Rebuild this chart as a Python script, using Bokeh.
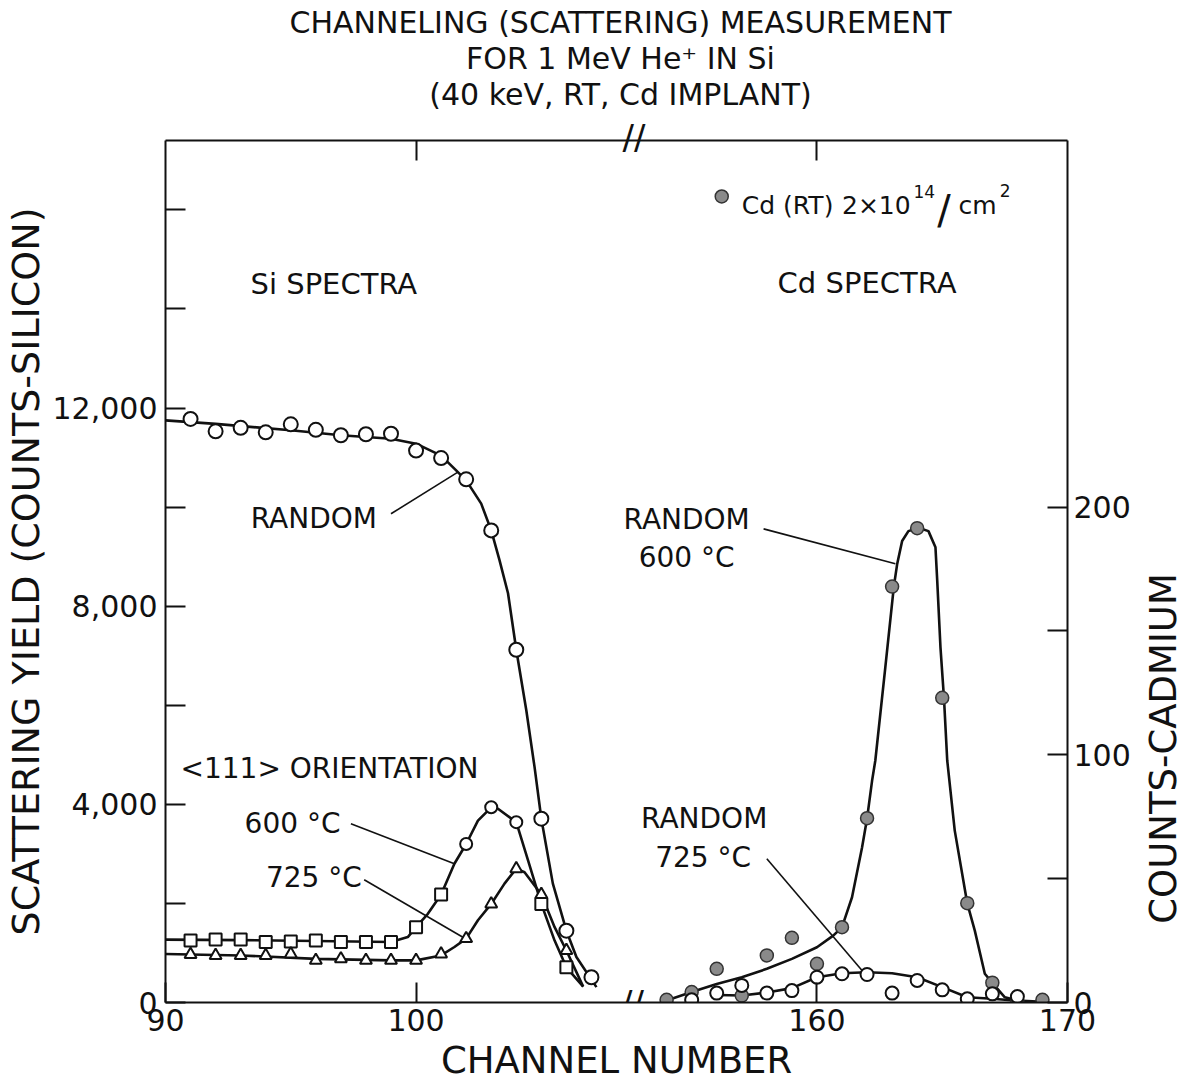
import numpy as np
from bokeh.plotting import figure
from bokeh.layouts import column, row
from bokeh.models import Range1d, LinearAxis, FixedTicker, Label
from bokeh.core.properties import value
from bokeh.embed import file_html
from bokeh.resources import INLINE

FONT = "DejaVu Sans"
INK = "#111111"
GRAY = "#8a8a8a"

# ---------------- Si spectra (left scale, counts-silicon) ----------------
si_ch = list(range(91, 108))
si_random = [11780, 11530, 11600, 11510, 11670, 11560, 11450, 11470, 11480,
             11140, 10990, 10560, 9530, 7120, 3710, 1450, 510]

# hand-drawn curve through the random spectrum
random_fit_ch = [90, 92, 95, 97, 99, 100, 101, 101.6, 102, 102.6, 103, 103.33,
                 103.67, 104, 104.4, 104.73, 105, 105.46, 106, 106.4, 107.2]
random_fit = [11750, 11680, 11550, 11450, 11380, 11280, 11040, 10740, 10540, 10070,
              9530, 8930, 8260, 7120, 5900, 4750, 3710, 2400, 1450, 920, 310]

# <111> aligned spectra after 600 C and 725 C anneals
orient_ch = list(range(91, 107))
orient_600 = [1250, 1270, 1270, 1220, 1230, 1250, 1220, 1220, 1220, 1520, 2180,
              3200, 3940, 3640, 1990, 710]
orient_725 = [970, 950, 950, 950, 980, 850, 880, 850, 850, 850, 980, 1290, 1990,
              2700, 2180, 1050]

fit_600_ch = [90, 93, 96, 99, 99.67, 100, 100.47, 101, 101.53, 102, 102.47, 103,
              103.27, 104, 104.47, 105, 105.53, 106, 106.67]
fit_600 = [1270, 1260, 1240, 1220, 1320, 1520, 1790, 2180, 2800, 3200, 3670, 3940,
           3910, 3640, 2870, 1990, 1250, 710, 320]

fit_725_ch = [90, 93, 96, 99, 100, 101, 101.53, 102, 102.47, 103, 103.53, 104,
              104.33, 105, 105.53, 106, 106.67]
fit_725 = [980, 950, 880, 850, 850, 950, 1120, 1290, 1660, 1990, 2400, 2700, 2630,
           2180, 1520, 1050, 320]

# ---------------- Cd spectra (right scale, counts-cadmium) ----------------
cd_ch = list(range(154, 170))
cd_600 = [1.1, 4.2, 13.6, 2.8, 19.0, 26.1, 15.6, 30.4, 74.4, 167.9, 191.5, 123.0,
          40.1, 8.0, 0.4, 1.1]
cd_725_ch = list(range(155, 169))
cd_725 = [1.1, 3.8, 6.9, 3.8, 4.8, 10.2, 11.6, 11.3, 3.8, 8.9, 5.1, 1.5, 3.5, 2.4]

cd_fit_600_ch = [154, 155, 156, 157, 158, 159, 160, 160.65, 161, 161.4, 161.8, 162,
                 162.2, 162.33, 162.73, 163.07, 163.2, 163.4, 163.65, 164.05, 164.45,
                 164.73, 164.8, 164.93, 165.07, 165.2, 165.5, 166, 166.3, 166.7, 167,
                 167.5, 168, 169]
cd_fit_600 = [0.8, 4.2, 7.5, 10.2, 13.6, 17.6, 22.3, 27, 30.4, 42.5, 62.6, 74.3, 89.5,
              97.7, 135.4, 168, 176.9, 186.3, 190.3, 191.7, 190.3, 183.8, 170.4, 143.4,
              122.9, 97.7, 69.4, 40, 29, 11.6, 7.9, 2.1, 0.8, 0.3]

cd_fit_725_ch = [156, 157, 158, 159, 160, 161, 162, 163, 164, 165, 166, 167, 168]
cd_fit_725 = [3.0, 2.8, 4.0, 5.8, 10.2, 11.8, 12.2, 11.8, 10.2, 6.2, 2.1, 1.5, 0.7]

# axis ticks
si_ticks = [0, 2000, 4000, 6000, 8000, 10000, 12000, 14000, 16000]
si_tick_text = {0: "0", 4000: "4,000", 8000: "8,000", 12000: "12,000"}
cd_ticks = [0, 50, 100, 150, 200]
cd_tick_text = {0: "0", 100: "100", 200: "200"}

title_lines = ["CHANNELING (SCATTERING) MEASUREMENT",
               "FOR 1 MeV He\u207a IN Si",
               "(40 keV, RT, Cd IMPLANT)"]

# ---------------- ranges: broken channel axis ----------------
SI_X = (90, 126)      # left segment shows 90 .. ~108.5
CD_X = (134, 170)     # right segment shows ~152.5 .. 170
SI_Y = (0, 17400)
CD_Y = (0, 348)
OFFSET = CD_X[0] - SI_X[0]
BREAK_X = 108.7

HEAD_H = 113
MAIN_TOP = 140 - HEAD_H
MAIN_H = MAIN_TOP + 862 + 80
MAIN_W = 165 + 902 + 70

p = figure(frame_width=902, frame_height=862,
           x_range=Range1d(*SI_X), y_range=Range1d(*SI_Y),
           output_backend="svg", toolbar_location=None,
           x_axis_location=None, y_axis_location=None, title_location=None,
           min_border_left=165, min_border_right=70, min_border_top=MAIN_TOP,
           min_border_bottom=80, outline_line_color=None,
           background_fill_color="white", border_fill_color="white")
p.extra_x_ranges = {"cd": Range1d(*CD_X)}
p.extra_y_ranges = {"cd": Range1d(*CD_Y)}
p.xgrid.visible = False
p.ygrid.visible = False


def style_axis(ax):
    ax.axis_line_color = INK
    ax.axis_line_width = 2
    ax.major_tick_line_color = INK
    ax.major_tick_line_width = 2
    ax.major_tick_in = 20
    ax.major_tick_out = 0
    ax.minor_tick_line_color = None
    ax.major_label_text_font = FONT
    ax.major_label_text_font_size = "30px"
    ax.major_label_text_color = INK
    ax.axis_label_text_font = FONT
    ax.axis_label_text_font_style = "normal"
    ax.axis_label_text_color = INK


left = LinearAxis(ticker=FixedTicker(ticks=si_ticks),
                  major_label_overrides={t: si_tick_text.get(t, "") for t in si_ticks},
                  axis_label="SCATTERING YIELD (COUNTS-SILICON)")
style_axis(left)
left.major_label_standoff = 8
left.axis_label_text_font_size = "38px"
left.axis_label_standoff = 2
p.add_layout(left, "left")

right = LinearAxis(y_range_name="cd", ticker=FixedTicker(ticks=cd_ticks),
                   major_label_overrides={t: cd_tick_text.get(t, "") for t in cd_ticks})
style_axis(right)
right.major_label_standoff = 6
p.add_layout(right, "right")

x_ticks = [90, 100, 160 - OFFSET, 170 - OFFSET]
bottom = LinearAxis(ticker=FixedTicker(ticks=x_ticks),
                    major_label_overrides={90: "90", 100: "100",
                                           160 - OFFSET: "160", 170 - OFFSET: "170"},
                    axis_label="CHANNEL NUMBER")
style_axis(bottom)
bottom.major_label_standoff = 6
bottom.axis_label_text_font_size = "37px"
bottom.axis_label_standoff = 5
p.add_layout(bottom, "below")

top_ticks = [100, 160 - OFFSET]
top = LinearAxis(ticker=FixedTicker(ticks=top_ticks),
                 major_label_overrides={t: "" for t in top_ticks})
style_axis(top)
top.major_label_standoff = 0
p.add_layout(top, "above")

# break mark on the upper frame line
top_break = LinearAxis(ticker=FixedTicker(ticks=[BREAK_X]),
                       major_label_overrides={BREAK_X: "//"})
style_axis(top_break)
top_break.axis_line_color = None
top_break.major_tick_line_color = None
top_break.major_label_text_font_size = "34px"
top_break.major_label_standoff = -16
p.add_layout(top_break, "above")

# ---------------- Si curves and points ----------------
LW = 2.6
p.line(random_fit_ch, random_fit, line_width=LW, color=INK)
p.line(fit_600_ch, fit_600, line_width=LW, color=INK)
p.line(fit_725_ch, fit_725, line_width=LW, color=INK)

p.scatter(si_ch, si_random, marker="circle", size=14, fill_color="white",
          line_color=INK, line_width=2)
orient_markers = ["circle" if 102 <= c <= 104 else "square" for c in orient_ch]
p.scatter(orient_ch, orient_600, marker=orient_markers, size=12, fill_color="white",
          line_color=INK, line_width=2)
p.scatter(orient_ch, orient_725, marker="triangle", size=12, fill_color="white",
          line_color=INK, line_width=2)

# ---------------- Cd curves and points ----------------
cd = dict(x_range_name="cd", y_range_name="cd")
p.line(cd_fit_600_ch, cd_fit_600, line_width=LW, color=INK, **cd)
p.line(cd_fit_725_ch, cd_fit_725, line_width=LW, color=INK, **cd)
p.scatter(cd_ch, cd_600, marker="circle", size=13, fill_color=GRAY,
          line_color="#333333", line_width=1.5, **cd)
p.scatter(cd_725_ch, cd_725, marker="circle", size=13, fill_color="white",
          line_color=INK, line_width=2, **cd)


# ---------------- annotations ----------------
def text(x, y, s, size="28px", align="center", baseline="middle", ranges=None, **kw):
    extra = {} if ranges is None else dict(x_range_name=ranges, y_range_name=ranges)
    p.add_layout(Label(x=x, y=y, text=s, text_font=FONT, text_font_size=size,
                       text_color=INK, text_align=align, text_baseline=baseline,
                       **extra, **kw))


text(96.72, 14510, "Si SPECTRA", size="29px")
text(162.0, 290.3, "Cd SPECTRA", size="29px", ranges="cd")

text(95.92, 9770, "RANDOM")
text(90.6, 4720, "<111> ORIENTATION", align="left")
text(95.07, 3610, "600 \u00b0C")
text(95.92, 2520, "725 \u00b0C")
p.segment(x0=[99.0, 97.4, 97.93], y0=[9865, 3607, 2477],
          x1=[101.67, 101.53, 101.87], y1=[10705, 2800, 1318],
          line_width=1.6, color=INK)

text(154.8, 195.0, "RANDOM", ranges="cd")
text(154.8, 179.6, "600 \u00b0C", ranges="cd")
text(155.5, 74.3, "RANDOM", ranges="cd")
text(155.46, 58.7, "725 \u00b0C", ranges="cd")
p.segment(x0=[157.87, 158.0], y0=[191.2, 58.0], x1=[163.13, 161.8], y1=[177.1, 12.9],
          line_width=1.6, color=INK, **cd)

# legend: Cd(RT) 2x10^14/cm^2
p.scatter([156.2], [325.4], marker="circle", size=13, fill_color=GRAY,
          line_color="#333333", line_width=1.5, **cd)
text(157.0, 321.8, "Cd (RT)", size="25px", align="left", baseline="alphabetic", ranges="cd")
text(161.0, 321.8, "2\u00d710", size="25px", align="left", baseline="alphabetic", ranges="cd")
text(163.85, 327.5, "14", size="17px", align="left", baseline="alphabetic", ranges="cd")
text(164.8, 320.0, "/", size="40px", align="left", baseline="alphabetic", ranges="cd")
text(165.65, 321.8, "cm", size="25px", align="left", baseline="alphabetic", ranges="cd")
text(167.3, 328.0, "2", size="17px", align="left", baseline="alphabetic", ranges="cd")

# break mark on the lower frame line
text(108.64, 0, "//", size="34px")

# ---------------- heading ----------------
head = figure(width=1199, height=HEAD_H, x_range=Range1d(0, 1199),
              y_range=Range1d(0, HEAD_H), output_backend="svg", toolbar_location=None,
              x_axis_location=None, y_axis_location=None, title_location=None,
              min_border=0, outline_line_color=None)
head.xgrid.visible = False
head.ygrid.visible = False
head.text(x=[620, 620, 620], y=[HEAD_H - 22, HEAD_H - 58, HEAD_H - 94],
          text=title_lines, text_font=value(FONT), text_font_size="30px",
          text_align="center", text_baseline="middle", text_color=INK)

# ---------------- right-hand axis title ----------------
SIDE_W = 1199 - MAIN_W
side = figure(width=SIDE_W, height=MAIN_H, x_range=Range1d(0, SIDE_W),
              y_range=Range1d(0, MAIN_H), output_backend="svg", toolbar_location=None,
              x_axis_location=None, y_axis_location=None, title_location=None,
              min_border=0, outline_line_color=None)
side.xgrid.visible = False
side.ygrid.visible = False
side.text(x=[1163 - MAIN_W], y=[MAIN_H - (798 - HEAD_H)], text=["COUNTS-CADMIUM"],
          text_font=value(FONT), text_font_size="37px", angle=np.pi / 2,
          text_align="center", text_baseline="middle", text_color=INK)

layout = column(head, row(p, side))
open("out.html", "w").write(file_html(layout, INLINE))
